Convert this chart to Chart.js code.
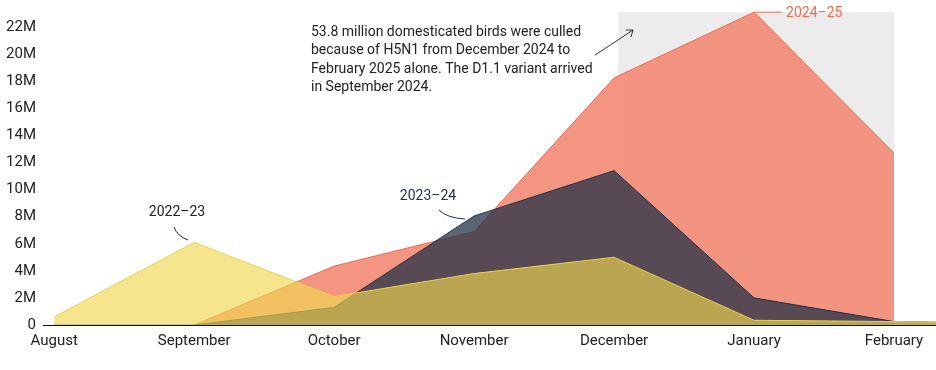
<!DOCTYPE html>
<html>
<head>
<meta charset="utf-8">
<script src="https://cdn.jsdelivr.net/npm/chart.js@4.4.1/dist/chart.umd.min.js"></script>
<style>
  html, body { margin: 0; padding: 0; background: #fff; }
  #wrap { width: 936px; height: 370px; position: relative; }
</style>
</head>
<body>
<div id="wrap"><canvas id="chart"></canvas></div>
<script>
// months (March is only the tail that runs off the right edge)
const months = ["August", "September", "October", "November", "December", "January", "February", "March"];

// birds culled, millions
const season2022 = [0.6, 6.1, 2.1, 3.8, 5.0, 0.35, 0.25, 0.1];
const season2023 = [0, 0, 1.3, 8.05, 11.4, 2.0, 0.25, 0.1];
const season2024 = [null, 0, 4.35, 6.9, 18.25, 23.1, 12.7, null];

const yTicks = [0, 2, 4, 6, 8, 10, 12, 14, 16, 18, 20, 22];

const FONT = "Roboto, 'Liberation Sans', sans-serif";

function pts(arr){
  return arr.map((v, i) => ({ x: i, y: v }));
}

/* =========================
   grey box Dec - Feb
=========================*/
const shadeBox = {
  id: "shadeBox",
  beforeDatasetsDraw(chart){
    const { ctx, scales: { x, y } } = chart;
    const x0 = x.getPixelForValue(4.03);
    const x1 = x.getPixelForValue(6);
    const top = y.getPixelForValue(23.1);
    const bottom = y.getPixelForValue(0);
    ctx.save();
    ctx.fillStyle = "#ececec";
    ctx.fillRect(x0, top, x1 - x0, bottom - top);
    ctx.restore();
  }
};

/* =========================
   labels and notes
=========================*/
const notes = {
  id: "notes",
  afterDatasetsDraw(chart){
    const { ctx, scales: { x, y } } = chart;
    ctx.save();
    ctx.font = "14px " + FONT;
    ctx.textBaseline = "middle";

    // 2022-23
    ctx.fillStyle = "#222";
    ctx.textAlign = "center";
    ctx.fillText("2022–23", 177, 212);
    ctx.strokeStyle = "#222";
    ctx.lineWidth = 1;
    ctx.beginPath();
    ctx.moveTo(174, 227);
    ctx.quadraticCurveTo(177, 236, 188, 240);
    ctx.stroke();

    // 2023-24
    ctx.fillStyle = "#1c2f4a";
    ctx.fillText("2023–24", 428, 196);
    ctx.strokeStyle = "#1c2f4a";
    ctx.beginPath();
    ctx.moveTo(439, 210);
    ctx.quadraticCurveTo(447, 218, 465, 219);
    ctx.stroke();

    // 2024-25
    const px = x.getPixelForValue(5);
    const py = y.getPixelForValue(23.1);
    ctx.strokeStyle = "#f26b50";
    ctx.beginPath();
    ctx.moveTo(px, py);
    ctx.lineTo(px + 28, py);
    ctx.stroke();
    ctx.fillStyle = "#f26b50";
    ctx.textAlign = "left";
    ctx.fillText("2024–25", px + 32, py + 1);

    // paragraph
    ctx.fillStyle = "#222";
    const lines = [
      "53.8 million domesticated birds were culled",
      "because of H5N1 from December 2024 to",
      "February 2025 alone. The D1.1 variant arrived",
      "in September 2024."
    ];
    lines.forEach((l, i) => ctx.fillText(l, 311, 32 + i * 18.5));

    // arrow
    ctx.strokeStyle = "#333";
    ctx.beginPath();
    ctx.moveTo(595, 55);
    ctx.quadraticCurveTo(612, 44, 633, 30);
    ctx.stroke();
    ctx.beginPath();
    ctx.moveTo(626, 30);
    ctx.lineTo(633, 30);
    ctx.lineTo(631, 37);
    ctx.stroke();

    ctx.restore();
  }
};

new Chart(document.getElementById("chart"), {
  type: "line",
  data: {
    datasets: [
      {
        label: "2022–23",
        data: pts(season2022),
        borderColor: "#ebd24c",
        backgroundColor: "rgba(240,215,80,0.65)",
        borderWidth: 1,
        fill: "origin",
        pointRadius: 0,
        tension: 0
      },
      {
        label: "2023–24",
        data: pts(season2023),
        borderColor: "#1c2f4a",
        backgroundColor: "rgba(35,50,70,0.75)",
        borderWidth: 1,
        fill: "origin",
        pointRadius: 0,
        tension: 0
      },
      {
        label: "2024–25",
        data: pts(season2024),
        borderColor: "#f26b50",
        backgroundColor: "rgba(242,140,118,0.92)",
        borderWidth: 1,
        fill: "origin",
        pointRadius: 0,
        tension: 0,
        spanGaps: false
      }
    ]
  },
  options: {
    responsive: true,
    maintainAspectRatio: false,
    animation: false,
    layout: { padding: 0 },
    plugins: { legend: { display: false }, tooltip: { enabled: false } },
    scales: {
      x: {
        type: "linear",
        min: -0.08,
        max: 6.3,
        grid: { display: false, drawTicks: false },
        border: { display: true, color: "#111", width: 1 },
        afterBuildTicks: s => { s.ticks = months.slice(0, 7).map((m, i) => ({ value: i })); },
        afterFit: s => { s.height = 45; s.paddingLeft = 0; s.paddingRight = 0; },
        ticks: {
          padding: 7,
          color: "#222",
          font: { size: 15, family: FONT },
          maxRotation: 0,
          autoSkip: false,
          callback: v => months[v]
        }
      },
      y: {
        min: 0,
        max: 24,
        grid: { display: false, drawTicks: false },
        border: { display: false },
        afterBuildTicks: s => { s.ticks = yTicks.map(v => ({ value: v })); },
        afterFit: s => { s.width = 43; s.paddingTop = 0; s.paddingBottom = 0; },
        ticks: {
          padding: 7,
          color: "#222",
          font: { size: 15, family: FONT },
          callback: v => v === 0 ? "0" : v + "M"
        }
      }
    }
  },
  plugins: [shadeBox, notes]
});
</script>
</body>
</html>
